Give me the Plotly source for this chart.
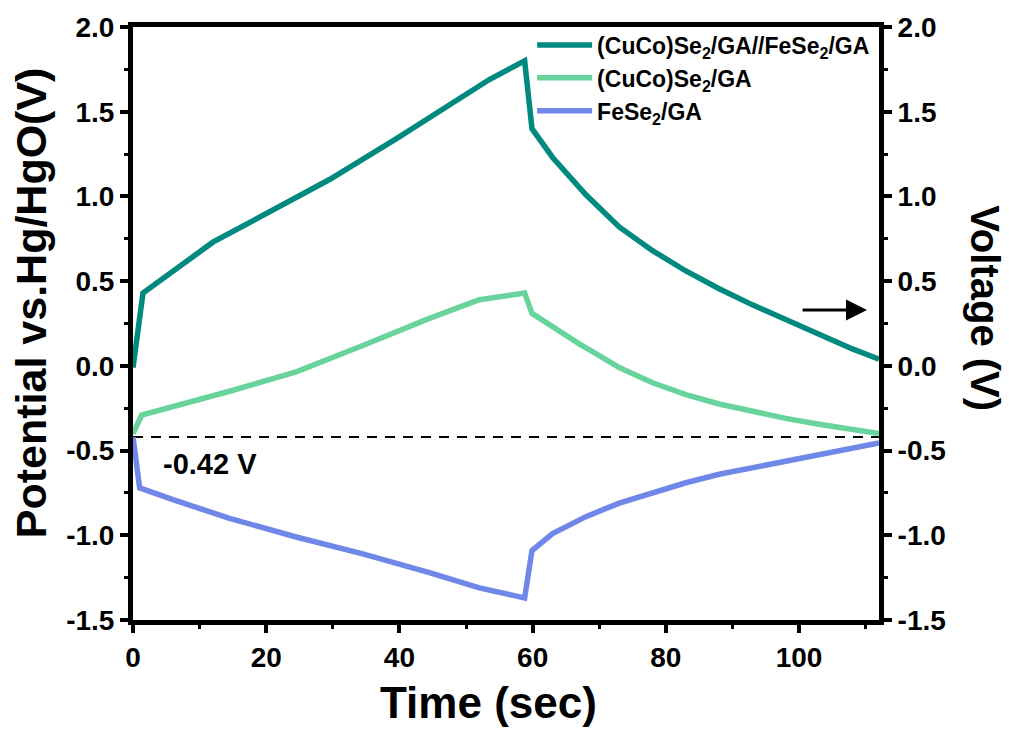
import plotly.graph_objects as go

# ---------------- data ----------------
t_full = [0, 1.5, 12, 20.5, 29.5, 39.5, 49.5, 53.5, 58.8, 59.9, 63, 68, 73, 78, 83, 88, 93, 97, 103, 108, 112]
v_full = [-0.01, 0.43, 0.73, 0.91, 1.10, 1.34, 1.59, 1.69, 1.80, 1.40, 1.23, 1.01, 0.82, 0.68, 0.56, 0.455, 0.36, 0.29, 0.18, 0.10, 0.04]

t_cuco = [0, 1.3, 14.5, 24.5, 34.5, 44.5, 52, 58.8, 59.9, 63, 67, 70, 73, 78, 83, 88, 93, 98, 103, 108, 112]
v_cuco = [-0.40, -0.29, -0.15, -0.035, 0.12, 0.28, 0.39, 0.43, 0.31, 0.23, 0.13, 0.06, -0.01, -0.10, -0.17, -0.225, -0.27, -0.31, -0.345, -0.375, -0.40]

t_fese = [0, 1.0, 6, 14.5, 24.5, 34.5, 44.5, 52, 58.8, 59.9, 63, 68, 73, 78, 83, 88, 93, 98, 103, 108, 112]
v_fese = [-0.42, -0.72, -0.79, -0.90, -1.01, -1.11, -1.22, -1.31, -1.37, -1.09, -0.99, -0.89, -0.81, -0.75, -0.69, -0.64, -0.60, -0.56, -0.52, -0.485, -0.455]

names = ["(CuCo)Se<sub>2</sub>/GA//FeSe<sub>2</sub>/GA", "(CuCo)Se<sub>2</sub>/GA", "FeSe<sub>2</sub>/GA"]
colors = ["#00897f", "#68d49b", "#6f87e8"]

ref_v = -0.42
ref_label = "-0.42 V"
x_range = [0, 112]
y_range = [-1.5, 2.0]
x_ticks = [0, 20, 40, 60, 80, 100]
x_tick_text = ["0", "20", "40", "60", "80", "100"]
y_ticks = [-1.5, -1.0, -0.5, 0.0, 0.5, 1.0, 1.5, 2.0]
y_tick_text = ["-1.5", "-1.0", "-0.5", "0.0", "0.5", "1.0", "1.5", "2.0"]
arrow_v = 0.33
arrow_t = [100.3, 110.2]

FONT = "Liberation Sans, Arial, sans-serif"
LW = 5.5

fig = go.Figure()
fig.add_trace(go.Scatter(x=t_full, y=v_full, mode="lines", name=names[0],
                         line=dict(color=colors[0], width=LW), yaxis="y2"))
fig.add_trace(go.Scatter(x=t_cuco, y=v_cuco, mode="lines", name=names[1],
                         line=dict(color=colors[1], width=LW)))
fig.add_trace(go.Scatter(x=t_fese, y=v_fese, mode="lines", name=names[2],
                         line=dict(color=colors[2], width=LW)))

# dashed reference line
fig.add_shape(type="line", x0=x_range[0], x1=x_range[1], y0=ref_v, y1=ref_v,
              xref="x", yref="y", line=dict(color="black", width=2, dash="10px,8px"),
              layer="below")
fig.add_annotation(x=4.2, y=ref_v - 0.16, xref="x", yref="y", text=ref_label,
                   showarrow=False, xanchor="left", yanchor="middle",
                   font=dict(family=FONT, size=29, color="black", weight="bold"))

# arrow pointing to right axis
fig.add_annotation(x=arrow_t[1], y=arrow_v, ax=arrow_t[0], ay=arrow_v,
                   xref="x", yref="y", axref="x", ayref="y", text="",
                   showarrow=True, arrowhead=2, arrowsize=1.4, arrowwidth=3,
                   arrowcolor="black", standoff=0)

axis_common = dict(showline=True, linecolor="black", linewidth=5,
                   ticks="outside", tickcolor="black", tickwidth=4, ticklen=8,
                   tickfont=dict(family=FONT, size=28, color="black", weight="bold"),
                   showgrid=False, zeroline=False)

fig.update_layout(
    width=1009, height=731,
    margin=dict(l=133, r=130, t=21, b=111),
    paper_bgcolor="white", plot_bgcolor="white",
    showlegend=True,
    legend=dict(x=0.535, y=1.006, xanchor="left", yanchor="top",
                bgcolor="rgba(0,0,0,0)", itemwidth=55, tracegroupgap=0,
                font=dict(family=FONT, size=23, color="black", weight="bold")),
    xaxis=dict(range=x_range, tickvals=x_ticks, ticktext=x_tick_text, mirror=True,
               minor=dict(dtick=10, ticks="outside", ticklen=4, tickwidth=3, tickcolor="black"),
               **axis_common),
    yaxis=dict(range=y_range, tickvals=y_ticks, ticktext=y_tick_text,
               minor=dict(dtick=0.25, ticks="outside", ticklen=4, tickwidth=3, tickcolor="black"),
               **axis_common),
    yaxis2=dict(range=y_range, tickvals=y_ticks, ticktext=y_tick_text, overlaying="y", side="right",
                minor=dict(dtick=0.25, ticks="outside", ticklen=4, tickwidth=3, tickcolor="black"),
                **axis_common),
)

fig.add_annotation(x=(488 - 133) / 746, y=-(703 - 620) / 599, xref="paper", yref="paper",
                   text="Time (sec)", showarrow=False, xanchor="center", yanchor="middle",
                   font=dict(family=FONT, size=44, color="black", weight="bold"))
fig.add_annotation(x=(31 - 133) / 746, y=(620 - 300) / 599, xref="paper", yref="paper",
                   text="Potential vs.Hg/HgO(V)", textangle=-90, showarrow=False,
                   xanchor="center", yanchor="middle",
                   font=dict(family=FONT, size=43, color="black", weight="bold"))
fig.add_annotation(x=(985 - 133) / 746, y=(620 - 305) / 599, xref="paper", yref="paper",
                   text="Voltage (V)", textangle=90, showarrow=False,
                   xanchor="center", yanchor="middle",
                   font=dict(family=FONT, size=40, color="black", weight="bold"))

fig.write_html("out.html")
